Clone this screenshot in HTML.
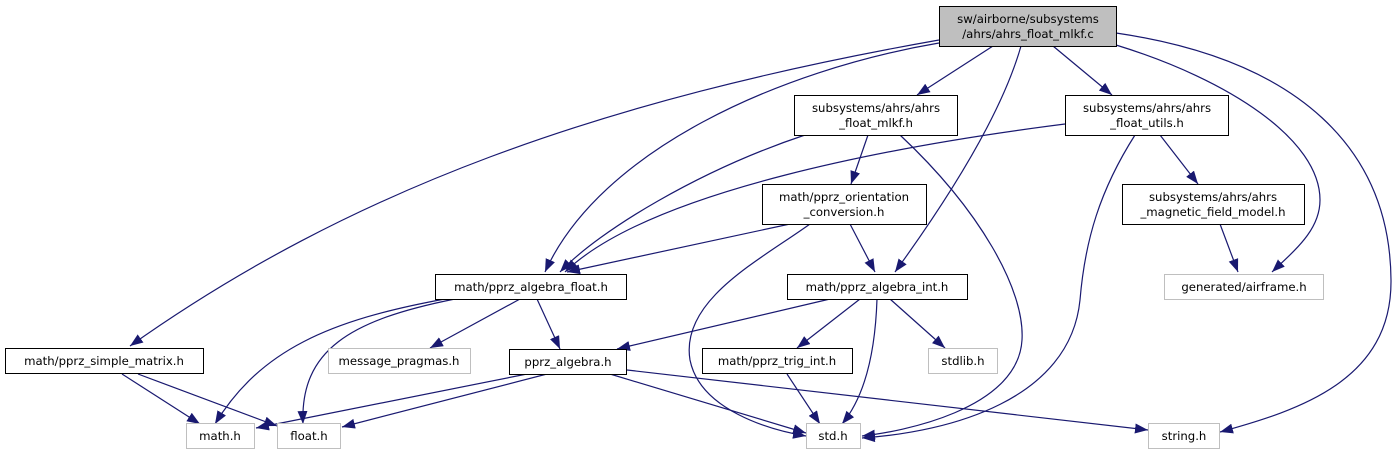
<!DOCTYPE html>
<html><head><meta charset="utf-8"><style>
html,body{margin:0;padding:0;background:#fff;}
svg{display:block;}
text{font-family:"DejaVu Sans","Liberation Sans",sans-serif;font-size:11.7px;fill:#000;}
</style></head><body>
<svg width="1397" height="455" viewBox="0 0 1397 455" xmlns="http://www.w3.org/2000/svg">
<defs>
<marker id="a" markerUnits="userSpaceOnUse" markerWidth="14" markerHeight="11" refX="13" refY="5" orient="auto">
<path d="M0,0 L13,5 L0,10 z" fill="#191970"/>
</marker>
</defs>
<g fill="none" stroke="#191970" stroke-width="1.2" marker-end="url(#a)">
<path d="M939,40 C600,100 350,190 130,346"/>
<path d="M939,43 C780,70 600,150 545,272"/>
<path d="M993,46 L917,95"/>
<path d="M1053,46 L1112,95"/>
<path d="M1021,46 C1000,120 940,210 895,272"/>
<path d="M1116,45 C1230,80 1320,140 1320,200 C1320,230 1295,250 1272,272"/>
<path d="M1116,33 C1300,60 1390,150 1391,280 C1392,380 1300,410 1220,432"/>
<path d="M805,135 C700,170 600,230 560,272"/>
<path d="M868,135 L851,184"/>
<path d="M900,135 C980,210 1025,290 1022,340 C1018,410 900,432 862,436"/>
<path d="M1065,124 C900,145 650,190 565,272"/>
<path d="M1160,135 L1198,184"/>
<path d="M1135,135 C1100,190 1085,240 1080,300 C1070,400 950,432 862,438"/>
<path d="M1220,224 L1238,272"/>
<path d="M790,224 L567,272"/>
<path d="M850,224 L875,272"/>
<path d="M810,224 C760,260 680,300 690,360 C700,410 770,430 806,436"/>
<path d="M445,299 C330,320 260,350 215,424"/>
<path d="M455,299 C350,320 300,350 303,424"/>
<path d="M520,299 L430,348"/>
<path d="M537,299 L560,349"/>
<path d="M830,299 L617,349"/>
<path d="M860,299 L797,348"/>
<path d="M877,299 C875,360 862,400 842,424"/>
<path d="M890,299 L945,348"/>
<path d="M122,374 L200,424"/>
<path d="M138,374 L277,426"/>
<path d="M527,374 L256,428"/>
<path d="M547,374 L342,427"/>
<path d="M610,374 L806,433"/>
<path d="M627,370 L1148,430"/>
<path d="M787,374 L820,424"/>
</g>
<g stroke-width="1">
<rect x="939.5" y="6.5" width="177" height="40" fill="#bfbfbf" stroke="#000"/>
<rect x="794.5" y="95.5" width="163" height="40" fill="#fff" stroke="#000"/>
<rect x="1065.5" y="95.5" width="163" height="40" fill="#fff" stroke="#000"/>
<rect x="762.5" y="184.5" width="164" height="40" fill="#fff" stroke="#000"/>
<rect x="1122.5" y="184.5" width="182" height="40" fill="#fff" stroke="#000"/>
<rect x="435.5" y="274.5" width="191" height="25" fill="#fff" stroke="#000"/>
<rect x="787.5" y="274.5" width="180" height="25" fill="#fff" stroke="#000"/>
<rect x="1164.5" y="274.5" width="159" height="25" fill="#fff" stroke="#bfbfbf"/>
<rect x="5.5" y="348.5" width="198" height="25" fill="#fff" stroke="#000"/>
<rect x="328.5" y="348.5" width="142" height="25" fill="#fff" stroke="#bfbfbf"/>
<rect x="509.5" y="349.5" width="117" height="25" fill="#fff" stroke="#000"/>
<rect x="702.5" y="348.5" width="150" height="25" fill="#fff" stroke="#000"/>
<rect x="928.5" y="348.5" width="69" height="25" fill="#fff" stroke="#bfbfbf"/>
<rect x="186.5" y="423.5" width="68" height="25" fill="#fff" stroke="#bfbfbf"/>
<rect x="277.5" y="423.5" width="63" height="25" fill="#fff" stroke="#bfbfbf"/>
<rect x="806.5" y="423.5" width="54" height="25" fill="#fff" stroke="#bfbfbf"/>
<rect x="1148.5" y="423.5" width="71" height="25" fill="#fff" stroke="#bfbfbf"/>
</g>
<g text-anchor="middle">
<text x="1028" y="23">sw/airborne/subsystems</text>
<text x="1028" y="38">/ahrs/ahrs_float_mlkf.c</text>
<text x="876" y="112">subsystems/ahrs/ahrs</text>
<text x="876" y="127">_float_mlkf.h</text>
<text x="1147" y="112">subsystems/ahrs/ahrs</text>
<text x="1147" y="127">_float_utils.h</text>
<text x="844" y="201">math/pprz_orientation</text>
<text x="844" y="216">_conversion.h</text>
<text x="1213" y="201">subsystems/ahrs/ahrs</text>
<text x="1213" y="216">_magnetic_field_model.h</text>
<text x="531" y="291">math/pprz_algebra_float.h</text>
<text x="877" y="291">math/pprz_algebra_int.h</text>
<text x="1244" y="291">generated/airframe.h</text>
<text x="104" y="365">math/pprz_simple_matrix.h</text>
<text x="399" y="365">message_pragmas.h</text>
<text x="568" y="366">pprz_algebra.h</text>
<text x="777" y="365">math/pprz_trig_int.h</text>
<text x="963" y="365">stdlib.h</text>
<text x="220" y="440">math.h</text>
<text x="309" y="440">float.h</text>
<text x="833" y="440">std.h</text>
<text x="1184" y="440">string.h</text>
</g>
</svg>
</body></html>
